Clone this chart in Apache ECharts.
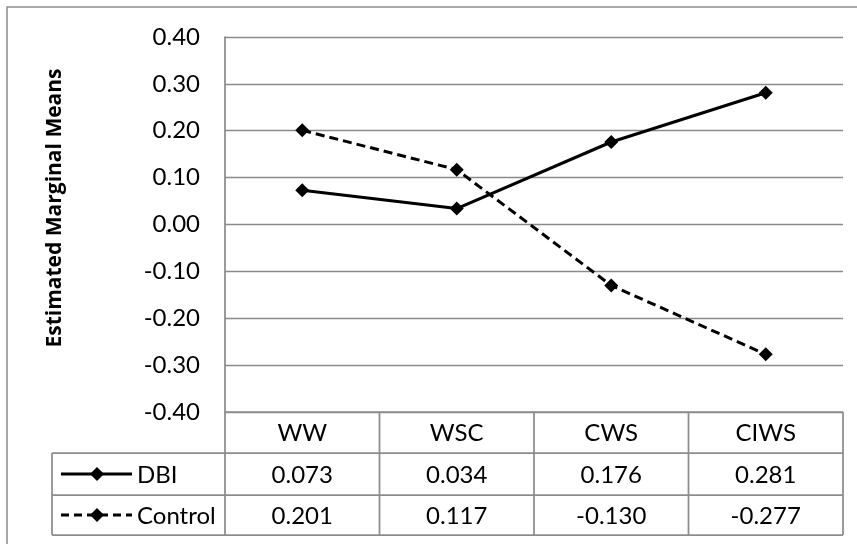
<!DOCTYPE html>
<html>
<head>
<meta charset="utf-8">
<title>Estimated Marginal Means</title>
<script src="https://cdn.jsdelivr.net/npm/echarts@6/dist/echarts.min.js"></script>
<style>
  html, body { margin: 0; padding: 0; background: #fff; }
  #chart { width: 857px; height: 544px; }
</style>
</head>
<body>
<div id="chart"></div>
<script>
// Conditions along the x axis
const categories = ['WW', 'WSC', 'CWS', 'CIWS'];
// Estimated marginal means per group
const dbiValues = [0.073, 0.034, 0.176, 0.281];
const controlValues = [0.201, 0.117, -0.130, -0.277];
const seriesNames = ['DBI', 'Control'];
// Value axis range and step
const yMin = -0.4;
const yMax = 0.4;
const yStep = 0.1;

const FONT = 'Lato';
const TITLE_FONT = '"Open Sans"';
const GRID_COLOR = '#8a8a8a';
const TABLE_COLOR = '#8c8c8c';

const chart = echarts.init(document.getElementById('chart'), null, { renderer: 'canvas' });

const grid = { left: 225, right: 14, top: 37, bottom: 132 };

chart.setOption({
  animation: false,
  backgroundColor: '#ffffff',
  grid: grid,
  xAxis: {
    type: 'category',
    data: categories,
    boundaryGap: true,
    axisLine: { show: false },
    axisTick: { show: false },
    axisLabel: { show: false },
    splitLine: { show: false }
  },
  yAxis: {
    type: 'value',
    min: yMin,
    max: yMax,
    interval: yStep,
    axisLine: { show: true, lineStyle: { color: TABLE_COLOR, width: 1.75 } },
    axisTick: { show: false },
    axisLabel: {
      margin: 25,
      color: '#000',
      fontFamily: FONT,
      fontSize: 24,
      formatter: v => v.toFixed(2)
    },
    splitLine: { show: true, lineStyle: { color: GRID_COLOR, width: 1.3 } }
  },
  series: [
    {
      name: seriesNames[0],
      type: 'line',
      data: dbiValues,
      symbol: 'diamond',
      symbolSize: 14,
      lineStyle: { color: '#000', width: 3 },
      itemStyle: { color: '#000' },
      emphasis: { disabled: true },
      z: 3
    },
    {
      name: seriesNames[1],
      type: 'line',
      data: controlValues,
      symbol: 'diamond',
      symbolSize: 14,
      lineStyle: { color: '#000', width: 3, type: [9, 5] },
      itemStyle: { color: '#000' },
      emphasis: { disabled: true },
      z: 3
    }
  ]
});

// Data table under the plot, laid out from the category axis positions
function buildTable() {
  const c0 = chart.convertToPixel({ xAxisIndex: 0 }, 0);
  const c1 = chart.convertToPixel({ xAxisIndex: 0 }, 1);
  const band = c1 - c0;
  const left = c0 - band / 2;
  const right = left + band * categories.length;
  const top = chart.convertToPixel({ yAxisIndex: 0 }, yMin);
  const rowH = [41, 42, 40];
  const rowY = [top, top + rowH[0], top + rowH[0] + rowH[1], top + rowH[0] + rowH[1] + rowH[2]];
  const legendLeft = 52;
  const els = [];
  const line = (x1, y1, x2, y2) => els.push({
    type: 'line', silent: true, z: 5,
    shape: { x1, y1, x2, y2 },
    style: { stroke: TABLE_COLOR, lineWidth: 1.75 }
  });
  const text = (x, y, s, align) => els.push({
    type: 'text', silent: true, z: 6,
    x, y,
    style: { text: s, fill: '#000', font: '24px ' + FONT, align: align || 'center', verticalAlign: 'middle' }
  });

  // horizontal rules
  line(left, rowY[0], right, rowY[0]);
  for (let r = 1; r < 4; r++) line(legendLeft, rowY[r], right, rowY[r]);
  // vertical rules
  line(legendLeft, rowY[1], legendLeft, rowY[3]);
  line(left, rowY[0], left, rowY[3]);
  for (let i = 1; i <= categories.length; i++) {
    line(left + band * i, rowY[0], left + band * i, rowY[3]);
  }

  const rowsData = [dbiValues, controlValues];
  categories.forEach((cat, i) => {
    const cx = left + band * (i + 0.5);
    text(cx, (rowY[0] + rowY[1]) / 2 + 1, cat);
    rowsData.forEach((vals, r) => {
      text(cx, (rowY[r + 1] + rowY[r + 2]) / 2 + 1, vals[i].toFixed(3));
    });
  });

  // legend keys in the first column
  rowsData.forEach((vals, r) => {
    const cy = (rowY[r + 1] + rowY[r + 2]) / 2;
    els.push({
      type: 'line', silent: true, z: 6,
      shape: { x1: legendLeft + 9, y1: cy, x2: legendLeft + 80, y2: cy },
      style: { stroke: '#000', lineWidth: 3, lineDash: r === 0 ? null : [8, 5] }
    });
    els.push({
      type: 'polygon', silent: true, z: 7,
      shape: { points: [[legendLeft + 45, cy - 7], [legendLeft + 52, cy], [legendLeft + 45, cy + 7], [legendLeft + 38, cy]] },
      style: { fill: '#000' }
    });
    text(legendLeft + 85, cy + 1, seriesNames[r], 'left');
  });

  // axis title
  els.push({
    type: 'text', silent: true, z: 6,
    x: 55, y: 208, rotation: Math.PI / 2,
    style: { text: 'Estimated Marginal Means', fill: '#000', font: 'bold 21px ' + TITLE_FONT, align: 'center', verticalAlign: 'middle' }
  });

  // chart area border
  els.push({
    type: 'rect', silent: true, z: 1,
    shape: { x: 7, y: 7, width: 900, height: 600 },
    style: { fill: null, stroke: TABLE_COLOR, lineWidth: 1.5 }
  });

  chart.setOption({ graphic: els });
}
buildTable();
</script>
</body>
</html>
